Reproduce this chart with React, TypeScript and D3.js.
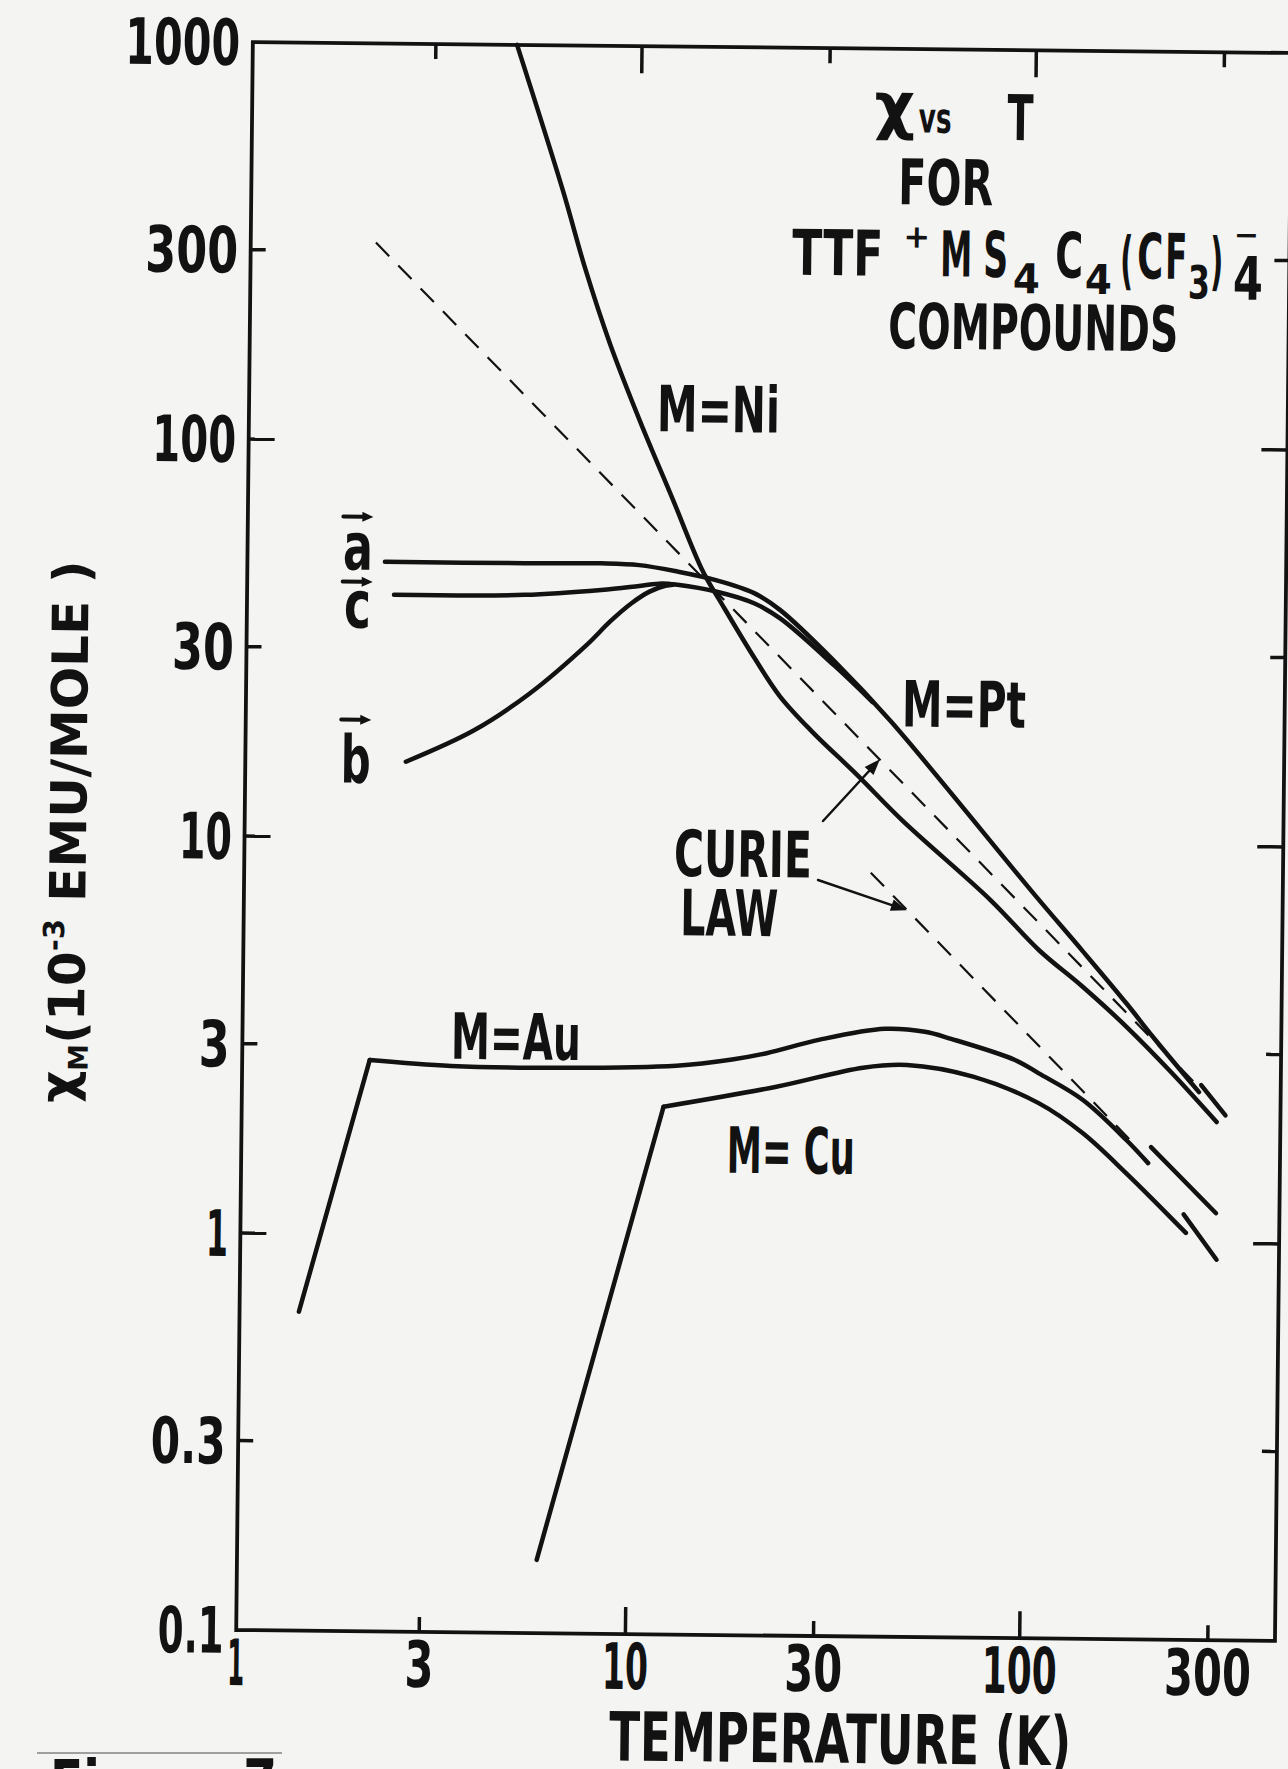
import React from "react";
import * as d3 from "d3";

type Pt = [number, number];

// ---------- axis ticks ----------
const xTickValues = [1, 3, 10, 30, 100, 300];
const xTickLabels = ["1", "3", "10", "30", "100", "300"];
const yTickValues = [0.1, 0.3, 1, 3, 10, 30, 100, 300, 1000];
const yTickLabels = ["0.1", "0.3", "1", "3", "10", "30", "100", "300", "1000"];

// ---------- series: [T (K), chi_M (1e-3 emu/mole)] ----------
const niSeries: Pt[] = [
  [4.82, 1000], [6.36, 430], [7.27, 275], [8.45, 177.5], [10.11, 113.7],
  [12.25, 73.1], [14.75, 47.6], [16.45, 39.7], [20, 29], [23.3, 23.2], [28.1, 19.0],
  [36.7, 14.8], [47.9, 11.4], [80.6, 7.22], [107.2, 5.42], [138.8, 4.39],
  [179.7, 3.49], [233, 2.7], [306, 2.02],
];
const ptA: Pt[] = [
  [2.3, 49.5], [5.19, 49.5], [8.12, 49.7], [10.15, 49.3], [12.7, 47.6],
  [15.9, 45.4], [19.9, 42.2], [23.2, 38.3], [32, 28.5], [44.6, 20.2],
  [104.2, 7.47], [138.5, 5.4], [179.3, 4.0], [209.7, 3.3], [275.5, 2.4],
];
const ptC: Pt[] = [
  [2.43, 40.9], [5.2, 41.2], [8.14, 42.6], [10.17, 43.7], [11.6, 44.4],
  [12.72, 44.1], [15.91, 42.5], [19.9, 39.8], [23.2, 36.5], [32, 27.8], [40, 22.6],
];
const ptB: Pt[] = [
  [2.63, 15.54], [3.9, 18.7], [5.41, 23.3], [7.5, 30.9], [8.6, 35.5],
  [9.73, 39.5], [10.8, 42.3], [11.84, 43.8], [12.4, 44.1],
];
const ptTail: Pt[] = [[279, 2.5], [322, 2.1]];
const auRise: Pt[] = [[1.457, 0.636], [2.17, 2.75]];
const auSeries: Pt[] = [
  [2.17, 2.75], [3.49, 2.67], [6.75, 2.66], [13, 2.71],
  [18, 2.82], [22, 2.93], [30, 3.18], [43.9, 3.4], [55.4, 3.35], [64.6, 3.22],
  [93.9, 2.86], [108, 2.65], [139.7, 2.28], [180.8, 1.81], [205.6, 1.585],
];
const auTail: Pt[] = [[208.9, 1.74], [306.6, 1.19]];
const cuRise: Pt[] = [[5.93, 0.153], [12.1, 2.135]];
const cuSeries: Pt[] = [
  [12.1, 2.135], [23.2, 2.41], [38.7, 2.71], [50, 2.76], [73.6, 2.59],
  [108.1, 2.23], [140, 1.88], [181.4, 1.49], [257.4, 1.06],
];
const cuTail: Pt[] = [[253.8, 1.18], [308.4, 0.909]];
const curieUpper: Pt[] = [[2.14, 315], [280, 2.43]];
const curieLower: Pt[] = [[40, 8.4], [185, 1.81]];

const INK = "#121212";
const PAPER = "#f4f4f2";
const FONT = "'DejaVu Sans', 'Liberation Sans', sans-serif";

function charW(s: string, digit = 31, one = 22) {
  let w = 0;
  for (const c of s) w += c === "1" ? one : c === "." ? 13 : digit;
  return w;
}

function Lbl(p: { x: number; y: number; t: string; fs: number; len?: number; anchor?: string }) {
  return (
    <text
      x={p.x}
      y={p.y}
      fontSize={p.fs}
      fontFamily={FONT}
      fontWeight="bold"
      textAnchor={p.anchor || "start"}
      textLength={p.len}
      lengthAdjust={p.len ? "spacingAndGlyphs" : undefined}
      fill={INK}
    >
      {p.t}
    </text>
  );
}

function Arrow({ x1, y1, x2, y2, w = 3, head = 16, hw = 6 }: any) {
  const dx = x2 - x1, dy = y2 - y1;
  const L = Math.hypot(dx, dy);
  const ux = dx / L, uy = dy / L;
  const bx = x2 - ux * head, by = y2 - uy * head;
  const pts = `${x2},${y2} ${bx - uy * hw},${by + ux * hw} ${bx + uy * hw},${by - ux * hw}`;
  return (
    <g>
      <line x1={x1} y1={y1} x2={bx} y2={by} stroke={INK} strokeWidth={w} strokeLinecap="round" />
      <polygon points={pts} fill={INK} />
    </g>
  );
}

export default function App() {
  const width = 1288, height = 1769;
  const frame = { left: 244.5, right: 1283.3, top: 47.5, bottom: 1635.5 };
  const x = d3.scaleLog().domain([1, 444]).range([239.4, 1283.3]);
  const y = d3.scaleLog().domain([0.1, 1000]).range([frame.bottom, frame.top]);
  const smooth = d3.line<Pt>().x((d) => x(d[0])).y((d) => y(d[1])).curve(d3.curveCatmullRom.alpha(0.5));
  const straight = d3.line<Pt>().x((d) => x(d[0])).y((d) => y(d[1]));

  const isDecade = (v: number) => Math.abs(Math.log10(v) - Math.round(Math.log10(v))) < 1e-6;
  const inner = yTickValues.filter((v) => v > 0.1 && v < 1000);
  const innerX = xTickValues.filter((v) => v > 1);

  const solid = { fill: "none", stroke: INK, strokeWidth: 4.5, strokeLinecap: "round" as const, strokeLinejoin: "round" as const };
  const dashed = { fill: "none", stroke: INK, strokeWidth: 2.2, strokeDasharray: "19 13" };

  const tip1: Pt = [41.9, 680 / 41.9];
  const tip2: Pt = [49.5, 335 / 49.5];

  return (
    <svg width={width} height={height} style={{ position: "absolute", left: 0, top: 0 }}>
      <rect width={width} height={height} fill={PAPER} />
      <g transform="rotate(0.6 763.9 841.5)">
        <rect
          x={frame.left}
          y={frame.top}
          width={frame.right - frame.left}
          height={frame.bottom - frame.top}
          fill="none"
          stroke={INK}
          strokeWidth={3.8}
        />
        {inner.map((v) => {
          const len = isDecade(v) ? 26 : 15;
          return (
            <g key={"yt" + v}>
              <line x1={frame.left} x2={frame.left + len} y1={y(v)} y2={y(v)} stroke={INK} strokeWidth={3.5} />
              <line x1={frame.right - len} x2={frame.right} y1={y(v)} y2={y(v)} stroke={INK} strokeWidth={3.5} />
            </g>
          );
        })}
        {innerX.map((v) => {
          const len = isDecade(v) ? 27 : 15;
          return (
            <g key={"xt" + v}>
              <line x1={x(v)} x2={x(v)} y1={frame.top} y2={frame.top + len} stroke={INK} strokeWidth={3.5} />
              <line x1={x(v)} x2={x(v)} y1={frame.bottom - len} y2={frame.bottom} stroke={INK} strokeWidth={3.5} />
            </g>
          );
        })}
        {yTickValues.map((v, i) => (
          <Lbl key={"yl" + v} x={232} y={y(v) + 23} t={yTickLabels[i]} fs={64} len={charW(yTickLabels[i])} anchor="end" />
        ))}
        {xTickValues.map((v, i) => (
          <Lbl key={"xl" + v} x={x(v) + (v === 1 ? 5 : 0)} y={frame.bottom + 55} t={xTickLabels[i]} fs={64} len={charW(xTickLabels[i], 29, 17)} anchor="middle" />
        ))}

        <Lbl x={849.6} y={1762} t="TEMPERATURE (K)" fs={68} len={462} anchor="middle" />
        <text transform="translate(86 839) rotate(-90)" fontFamily={FONT} fontWeight="bold" fill={INK} fontSize={50} textAnchor="middle">
          <tspan dy={-8}>χ</tspan>
          <tspan fontSize={27} dy={12}>M</tspan>
          <tspan dy={-4}>(10</tspan>
          <tspan fontSize={29} dy={-21}>-3</tspan>
          <tspan dy={21}> EMU/MOLE )</tspan>
        </text>

        <Lbl x={887} y={126} t="χ" fs={63} anchor="middle" />
        <Lbl x={911} y={131} t="vs" fs={42} len={33} />
        <Lbl x={1000} y={137.5} t="T" fs={63} len={26} />
        <Lbl x={938.8} y={203} t="FOR" fs={63} len={95} anchor="middle" />
        <Lbl x={786} y={274.5} t="TTF" fs={63} len={91} />
        <Lbl x={910.5} y={246} t="+" fs={32} anchor="middle" />
        <Lbl x={934} y={274.5} t="M" fs={63} len={32} />
        <Lbl x={977} y={274.5} t="S" fs={63} len={25} />
        <Lbl x={1007} y={290.5} t="4" fs={41} len={27} />
        <Lbl x={1049} y={274.5} t="C" fs={63} len={28} />
        <Lbl x={1079} y={290.5} t="4" fs={41} len={27} />
        <Lbl x={1114} y={278} t="(" fs={63} len={13} />
        <Lbl x={1131} y={274.5} t="C" fs={63} len={26} />
        <Lbl x={1159} y={274.5} t="F" fs={63} len={22} />
        <Lbl x={1182} y={294} t="3" fs={46} len={22} />
        <Lbl x={1204} y={278} t=")" fs={63} len={13} />
        <Lbl x={1227} y={294.5} t="4" fs={60} len={30} />
        <Lbl x={1240} y={240} t="−" fs={30} anchor="middle" />
        <Lbl x={1027.9} y={347} t="COMPOUNDS" fs={63} len={290} anchor="middle" />

        <path d={straight(curieUpper) || ""} {...dashed} />
        <path d={straight(curieLower) || ""} {...dashed} />

        <path d={smooth(niSeries) || ""} {...solid} />
        <path d={smooth(ptA) || ""} {...solid} />
        <path d={smooth(ptC) || ""} {...solid} />
        <path d={smooth(ptB) || ""} {...solid} />
        <path d={straight(ptTail) || ""} {...solid} />
        <path d={straight(auRise) || ""} {...solid} />
        <path d={smooth(auSeries) || ""} {...solid} />
        <path d={straight(auTail) || ""} {...solid} />
        <path d={straight(cuRise) || ""} {...solid} />
        <path d={smooth(cuSeries) || ""} {...solid} />
        <path d={straight(cuTail) || ""} {...solid} />

        <Lbl x={652.5} y={432.5} t="M=Ni" fs={64} len={123} />
        <Lbl x={900.5} y={725} t="M=Pt" fs={64} len={124} />
        <Lbl x={674} y={877} t="CURIE" fs={64} len={138} />
        <Lbl x={681} y={936} t="LAW" fs={64} len={98} />
        <Lbl x={453} y={1062} t="M=Au" fs={64} len={130} />
        <Lbl x={730} y={1173} t="M= Cu" fs={64} len={128} />
        <Arrow x1={822.8} y1={820.4} x2={x(tip1[0])} y2={y(tip1[1])} w={2.5} />
        <Arrow x1={818.4} y1={879.4} x2={x(tip2[0])} y2={y(tip2[1])} w={2.5} />

        <Lbl x={355} y={574} t="a" fs={66} len={30} anchor="middle" />
        <Arrow x1={340} y1={521} x2={370} y2={521} w={4} head={11} hw={5} />
        <Lbl x={355} y={632} t="c" fs={66} len={27} anchor="middle" />
        <Arrow x1={340} y1={586} x2={370} y2={586} w={4} head={11} hw={5} />
        <Lbl x={355} y={787} t="b" fs={66} len={30} anchor="middle" />
        <Arrow x1={340} y1={724} x2={370} y2={724} w={4} head={11} hw={5} />
      </g>

      <line x1={37} x2={282} y1={1753} y2={1753} stroke="#555" strokeWidth={1.5} opacity={0.7} />
      <Lbl x={50} y={1804} t="Figure 7" fs={62} len={227} />
    </svg>
  );
}
